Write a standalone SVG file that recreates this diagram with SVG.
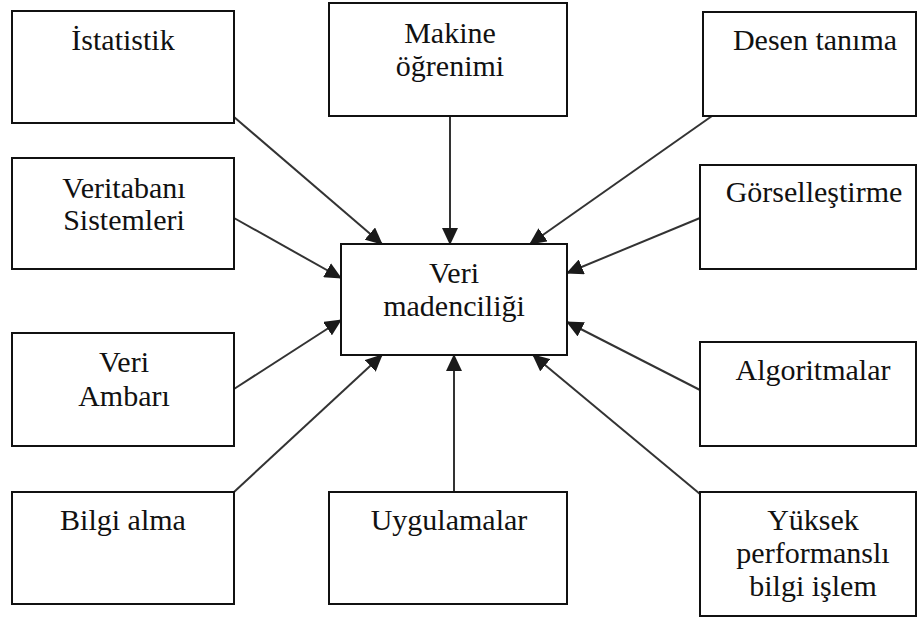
<svg xmlns="http://www.w3.org/2000/svg" width="917" height="621" viewBox="0 0 917 621">
  <style>
    .box { fill: #fff; stroke: #111; stroke-width: 2; }
    .lbl { font-family: "Liberation Serif", "Times New Roman", serif; font-size: 30px; fill: #111; text-anchor: middle; }
    .link { stroke: #333; stroke-width: 2; fill: none; marker-end: url(#head); }
  </style>
  <defs>
    <marker id="head" markerUnits="userSpaceOnUse" markerWidth="17" markerHeight="16" refX="16" refY="8" orient="auto" viewBox="0 0 17 16">
      <path d="M0,0 L17,8 L0,16 z" fill="#1a1a1a"/>
    </marker>
  </defs>
  <rect width="917" height="621" fill="#fff"/>

  <!-- connectors: every source points at the central node -->
  <g id="connectors">
    <line class="link" x1="234" y1="117" x2="382" y2="244"/>
    <line class="link" x1="450" y1="116" x2="450" y2="244"/>
    <line class="link" x1="712" y1="116" x2="530" y2="244"/>
    <line class="link" x1="234" y1="218" x2="341" y2="278"/>
    <line class="link" x1="700" y1="218" x2="567" y2="273"/>
    <line class="link" x1="234" y1="389" x2="341" y2="320"/>
    <line class="link" x1="234" y1="492" x2="382" y2="355"/>
    <line class="link" x1="454" y1="492" x2="454" y2="355"/>
    <line class="link" x1="700" y1="390" x2="567" y2="322"/>
    <line class="link" x1="700" y1="494" x2="533" y2="355"/>
  </g>

  <g id="istatistik">
    <rect class="box" x="12" y="11" width="222" height="112"/>
    <text class="lbl" x="123" y="50">İstatistik</text>
  </g>
  <g id="makine-ogrenimi">
    <rect class="box" x="329" y="3" width="238" height="113"/>
    <text class="lbl" x="450" y="43">Makine</text>
    <text class="lbl" x="450" y="76">öğrenimi</text>
  </g>
  <g id="desen-tanima">
    <rect class="box" x="703" y="12" width="213" height="104"/>
    <text class="lbl" x="815" y="50">Desen tanıma</text>
  </g>
  <g id="veritabani">
    <rect class="box" x="12" y="158" width="222" height="111"/>
    <text class="lbl" x="124" y="198">Veritabanı</text>
    <text class="lbl" x="124" y="230">Sistemleri</text>
  </g>
  <g id="gorsellestirme">
    <rect class="box" x="700" y="165" width="216" height="104"/>
    <text class="lbl" x="814" y="202">Görselleştirme</text>
  </g>
  <g id="veri-madenciligi">
    <rect class="box" x="341" y="244" width="226" height="111"/>
    <text class="lbl" x="454" y="283">Veri</text>
    <text class="lbl" x="454" y="316">madenciliği</text>
  </g>
  <g id="veri-ambari">
    <rect class="box" x="12" y="333" width="222" height="113"/>
    <text class="lbl" x="124" y="372">Veri</text>
    <text class="lbl" x="124" y="406">Ambarı</text>
  </g>
  <g id="algoritmalar">
    <rect class="box" x="700" y="342" width="216" height="104"/>
    <text class="lbl" x="813" y="380">Algoritmalar</text>
  </g>
  <g id="bilgi-alma">
    <rect class="box" x="12" y="492" width="222" height="112"/>
    <text class="lbl" x="123" y="530">Bilgi alma</text>
  </g>
  <g id="uygulamalar">
    <rect class="box" x="329" y="492" width="238" height="112"/>
    <text class="lbl" x="449" y="530">Uygulamalar</text>
  </g>
  <g id="yuksek-performans">
    <rect class="box" x="700" y="492" width="216" height="124"/>
    <text class="lbl" x="813" y="530">Yüksek</text>
    <text class="lbl" x="813" y="563">performanslı</text>
    <text class="lbl" x="813" y="596">bilgi işlem</text>
  </g>
</svg>
